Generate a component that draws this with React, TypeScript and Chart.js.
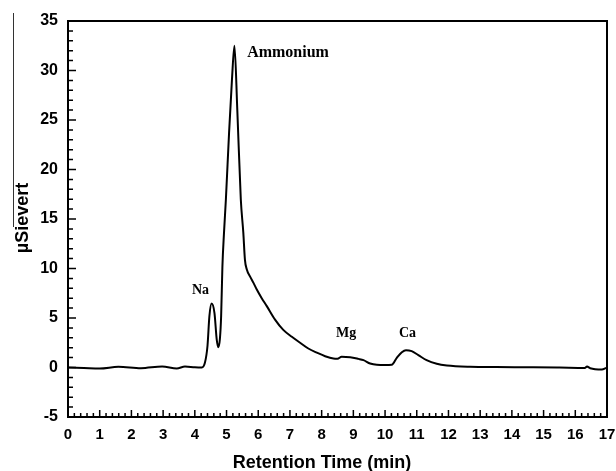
import { useEffect, useRef } from 'react';
import { Chart, registerables } from 'chart.js';
Chart.register(...registerables);

const retentionTime = [
  0, 0.5, 1.0, 1.59, 2.3, 2.97, 3.43, 3.69, 4.0, 4.22, 4.32, 4.4, 4.46, 4.53, 4.62, 4.69, 4.74,
  4.79, 4.83, 4.87, 4.92, 4.98, 5.08, 5.17, 5.25, 5.34, 5.45, 5.53, 5.58, 5.64, 5.74, 5.85,
  5.95, 6.11, 6.27, 6.53, 6.79, 7.06, 7.32, 7.58, 7.85, 8.11, 8.37, 8.5, 8.63, 8.9, 9.16,
  9.32, 9.53, 9.74, 10.0, 10.21, 10.37, 10.53, 10.66, 10.84, 11.05, 11.31, 11.63, 11.95,
  12.68, 13.5, 14.67, 15.5, 16.3, 16.37, 16.47, 16.84, 16.97,
];
const signal = [
  0, -0.05, -0.1, 0.07, -0.07, 0.1, -0.1, 0.1, 0.02, 0.0, 0.5, 2.2, 5.2, 6.46, 5.5, 2.85, 2.05,
  2.85, 5.2, 10.2, 13.6, 17.0, 23.7, 29.0, 32.5, 26.0, 17.0, 13.6, 10.9, 9.9, 9.2, 8.55,
  7.9, 7.0, 6.2, 4.84, 3.8, 3.1, 2.5, 1.92, 1.5, 1.14, 0.9, 0.88, 1.08, 1.04, 0.87,
  0.74, 0.4, 0.27, 0.25, 0.27, 0.97, 1.55, 1.75, 1.65, 1.25, 0.74, 0.37, 0.2,
  0.07, 0.04, 0.03, 0.0, -0.04, 0.1, -0.07, -0.2, -0.04,
];

const peakNames = ['Na', 'Ammonium', 'Mg', 'Ca'];
const peakNameX = [3.91, 5.65, 8.45, 10.44];
const peakNameY = [7.47, 31.4, 3.13, 3.13];
const peakNameSize = [14, 16, 14, 14];

const xTitle = 'Retention Time (min)';
const yTitle = 'µSievert';

const decor = {
  id: 'decor',
  afterDatasetsDraw(chart: any) {
    const { ctx, chartArea: a, scales } = chart;
    const xs = scales.x;
    const ys = scales.y;
    ctx.save();
    ctx.strokeStyle = '#000';
    ctx.lineWidth = 2;
    ctx.strokeRect(a.left, a.top, a.right - a.left, a.bottom - a.top);
    ctx.lineWidth = 1.5;
    ctx.beginPath();
    for (let i = 0; i <= 85; i++) {
      const px = xs.getPixelForValue(i * 0.2);
      const len = i % 5 === 0 ? 7 : 4;
      ctx.moveTo(px, a.bottom);
      ctx.lineTo(px, a.bottom - len);
    }
    for (let v = -5; v <= 35; v++) {
      const py = ys.getPixelForValue(v);
      const len = v % 5 === 0 ? 8 : 5;
      ctx.moveTo(a.left, py);
      ctx.lineTo(a.left + len, py);
    }
    ctx.stroke();

    // stray vertical line at left
    ctx.lineWidth = 1;
    ctx.strokeStyle = '#333';
    ctx.beginPath();
    ctx.moveTo(13.5, 13);
    ctx.lineTo(13.5, 227);
    ctx.stroke();

    ctx.fillStyle = '#000';
    ctx.textAlign = 'left';
    ctx.textBaseline = 'alphabetic';
    for (let i = 0; i < peakNames.length; i++) {
      ctx.font = `bold ${peakNameSize[i]}px "Liberation Serif", "Times New Roman", serif`;
      ctx.fillText(peakNames[i], xs.getPixelForValue(peakNameX[i]), ys.getPixelForValue(peakNameY[i]));
    }

    ctx.font = 'bold 18px "Liberation Sans", Arial, sans-serif';
    ctx.textAlign = 'center';
    ctx.fillText(xTitle, 322, 468);

    ctx.save();
    ctx.translate(28, 218);
    ctx.rotate(-Math.PI / 2);
    ctx.font = 'bold 18px "Liberation Sans", Arial, sans-serif';
    ctx.textAlign = 'center';
    ctx.fillText(yTitle, 0, 0);
    ctx.restore();

    ctx.restore();
  },
};

export default function App() {
  const ref = useRef<HTMLCanvasElement>(null);
  useEffect(() => {
    document.body.style.margin = '0';
    const canvas = ref.current!;
    const chart = new Chart(canvas, {
      type: 'line',
      data: {
        datasets: [
          {
            data: retentionTime.map((x, i) => ({ x, y: signal[i] })),
            borderColor: '#000',
            borderWidth: 2,
            pointRadius: 0,
            cubicInterpolationMode: 'monotone',
            fill: false,
          },
        ],
      },
      options: {
        responsive: false,
        animation: false,
        layout: { padding: { top: 21, right: 9, left: 0, bottom: 0 } },
        plugins: { legend: { display: false }, tooltip: { enabled: false } },
        scales: {
          x: {
            type: 'linear',
            min: 0,
            max: 17,
            grid: { display: false, drawTicks: false },
            border: { display: false },
            ticks: {
              stepSize: 1,
              padding: 9,
              maxRotation: 0,
              color: '#000',
              font: { family: '"Liberation Sans", Arial, sans-serif', size: 15, weight: 'bold' },
            },
            afterFit: (s: any) => {
              s.height = 54;
              s.paddingLeft = 0;
              s.paddingRight = 0;
            },
          },
          y: {
            type: 'linear',
            min: -5,
            max: 35,
            grid: { display: false, drawTicks: false },
            border: { display: false },
            ticks: {
              stepSize: 5,
              padding: 10,
              color: '#000',
              font: { family: '"Liberation Sans", Arial, sans-serif', size: 16, weight: 'bold' },
            },
            afterFit: (s: any) => {
              s.width = 68;
              s.paddingTop = 0;
              s.paddingBottom = 0;
            },
          },
        },
      },
      plugins: [decor],
    } as any);
    return () => chart.destroy();
  }, []);
  return <canvas ref={ref} width={616} height={471} style={{ display: 'block' }} />;
}
